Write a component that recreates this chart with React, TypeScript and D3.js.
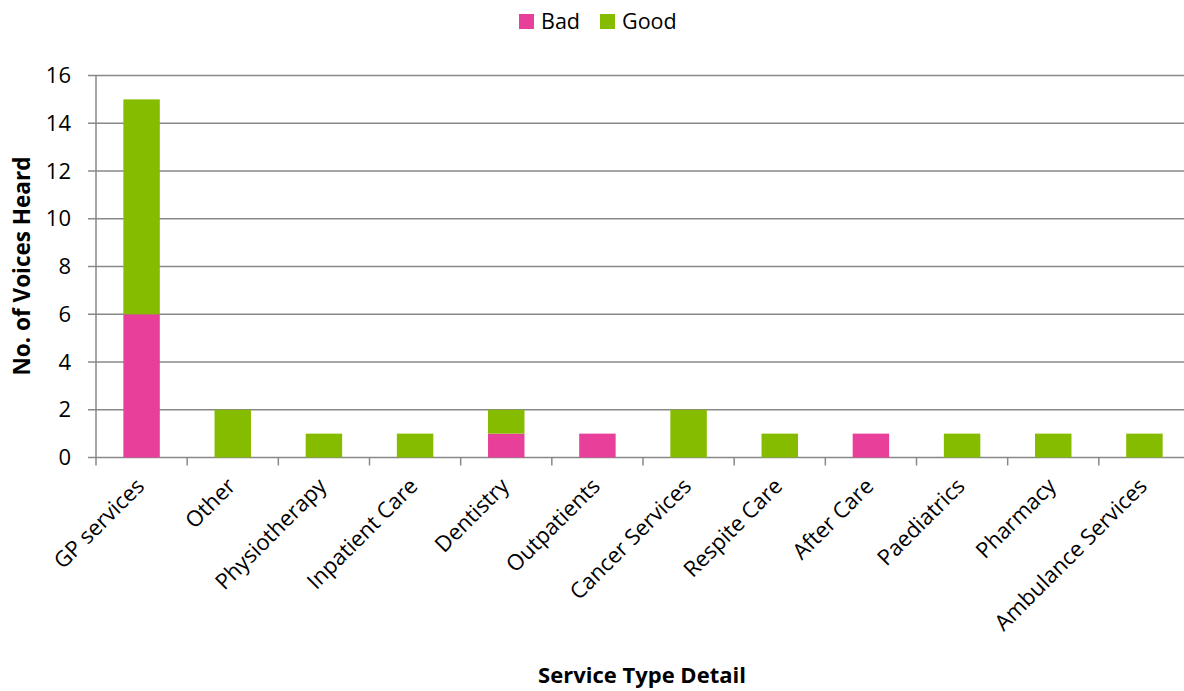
import React from "react";
import * as d3 from "d3";

const categories = ["GP services","Other","Physiotherapy","Inpatient Care","Dentistry","Outpatients","Cancer Services","Respite Care","After Care","Paediatrics","Pharmacy","Ambulance Services"];
const badValues = [6,0,0,0,1,1,0,0,1,0,0,0];
const goodValues = [9,2,1,1,1,0,2,1,0,1,1,1];
const yTicks = [0,2,4,6,8,10,12,14,16];
const seriesNames = ["Bad","Good"];
const seriesColors = ["#E8409A","#86BC00"];

const W = 1184, H = 691;
const FONT = "'Open Sans', sans-serif";

export default function App() {
  const x = d3.scaleBand<string>().domain(categories).range([96, 1190]).paddingInner(0.6).paddingOuter(0.3);
  const step = x.step();
  const y = d3.scaleLinear().domain([0,16]).range([457.5, 75.5]);
  const stacked = d3.stack<any>().keys(["bad","good"])(categories.map((c,i)=>({cat:c,bad:badValues[i],good:goodValues[i]})));
  const grid = "#888888";
  const x0 = 96;
  return (
    <svg width={W} height={H} style={{position:"absolute",left:0,top:0,fontFamily:FONT}}>
      <rect width={W} height={H} fill="#fff"/>
      {yTicks.map(t=>(
        <g key={t}>
          <line x1={88} x2={W} y1={y(t)} y2={y(t)} stroke={grid} strokeWidth={1.5}/>
          <text x={71} y={y(t)} dy="0.35em" textAnchor="end" fontSize={22} fill="#000">{t}</text>
        </g>
      ))}
      <line x1={x0} x2={x0} y1={y(16)} y2={y(0)+8} stroke={grid} strokeWidth={1.5}/>
      {categories.map((c,i)=>(
        <line key={c} x1={x0+step*(i+1)} x2={x0+step*(i+1)} y1={y(0)} y2={y(0)+8} stroke={grid} strokeWidth={1.5}/>
      ))}
      {stacked.map((s,si)=>(
        <g key={si}>
          {s.map((d,i)=> d[1]-d[0]>0 ? (
            <rect key={i} x={x(categories[i])} width={x.bandwidth()} y={y(d[1])} height={y(d[0])-y(d[1])} fill={seriesColors[si]}/>
          ) : null)}
        </g>
      ))}
      {categories.map((c,i)=>{
        const cx = (x(c) as number) + x.bandwidth()/2 + 4;
        const cy = y(0)+30;
        return <text key={c} transform={`translate(${cx},${cy}) rotate(-45)`} textAnchor="end" fontSize={22} fill="#000">{c}</text>;
      })}
      <text transform={`translate(30,266) rotate(-90)`} textAnchor="middle" fontSize={22.5} fontWeight="bold" fill="#000">No. of Voices Heard</text>
      <text x={642} y={683} textAnchor="middle" fontSize={22} fontWeight="bold" fill="#000">Service Type Detail</text>
      {seriesNames.map((n,i)=>(
        <g key={n} transform={`translate(${519+i*81},14)`}>
          <rect width={15} height={15} fill={seriesColors[i]}/>
          <text x={22} y={7.5} dy="0.35em" fontSize={21.5} fill="#000">{n}</text>
        </g>
      ))}
    </svg>
  );
}
